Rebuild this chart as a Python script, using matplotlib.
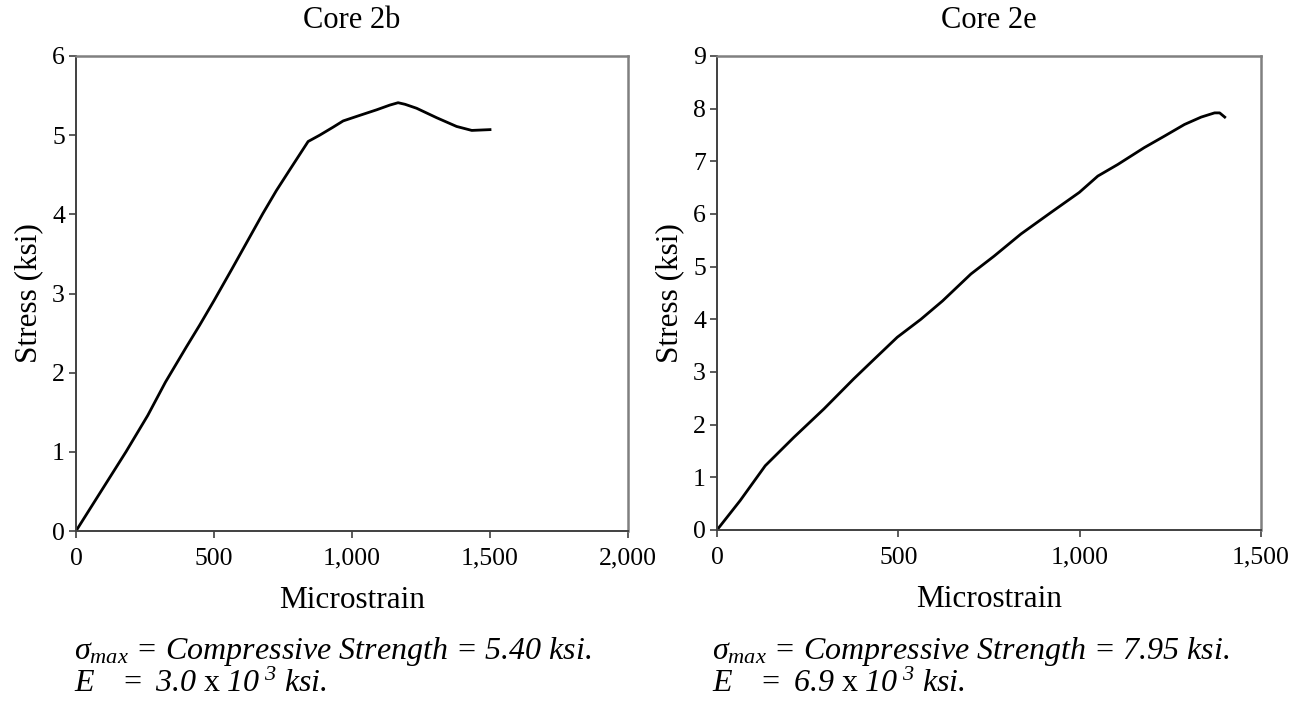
import matplotlib
matplotlib.use("Agg")
import matplotlib.pyplot as plt

# ---- data ----
strain_2b = [0, 85, 181, 260, 324, 399, 448, 500, 565, 629, 677, 726, 774, 841, 883,
             931, 968, 1028, 1089, 1137, 1167, 1192, 1234, 1307, 1379, 1434, 1500]
stress_2b = [0, 0.47, 1.0, 1.46, 1.88, 2.32, 2.6, 2.91, 3.31, 3.71, 4.01, 4.30, 4.56, 4.92, 5.0,
             5.10, 5.18, 5.25, 5.32, 5.38, 5.41, 5.39, 5.34, 5.22, 5.11, 5.06, 5.07]

strain_2e = [0, 64, 133, 212, 295, 377, 433, 497, 562, 622, 700, 764, 838, 921, 999,
             1050, 1105, 1178, 1234, 1289, 1335, 1372, 1386, 1400]
stress_2e = [0, 0.56, 1.22, 1.76, 2.30, 2.87, 3.24, 3.66, 4.0, 4.35, 4.86, 5.20, 5.62, 6.03, 6.41,
             6.72, 6.94, 7.26, 7.48, 7.70, 7.84, 7.92, 7.92, 7.84]

titles = ["Core 2b", "Core 2e"]
xticks_2b = [0, 500, 1000, 1500, 2000]
xticks_2e = [0, 500, 1000, 1500]
yticks_2b = [0, 1, 2, 3, 4, 5, 6]
yticks_2e = list(range(0, 10))
strengths = ["5.40", "7.95"]
moduli = ["3.0", "6.9"]

plt.rcParams['font.family'] = ['Liberation Serif', 'DejaVu Serif']
plt.rcParams['mathtext.fontset'] = 'custom'
plt.rcParams['mathtext.rm'] = 'Liberation Serif:italic'
plt.rcParams['mathtext.it'] = 'Liberation Serif:italic'
plt.rcParams['mathtext.sf'] = 'Liberation Serif'
plt.rcParams['mathtext.bf'] = 'Liberation Serif:bold'

W, H = 1300, 702
fig = plt.figure(figsize=(W / 100, H / 100), dpi=100)

def add_ax(x0, y0, x1, y1):
    return fig.add_axes([x0 / W, 1 - y1 / H, (x1 - x0) / W, (y1 - y0) / H])

axL = add_ax(76, 56, 628, 531)
axR = add_ax(717, 56, 1261, 530)

def style(ax, x, y, xt, yt, xmax, ymax, title):
    ax.plot(x, y, color='black', lw=2.0, solid_joinstyle='round')
    ax.set_xlim(0, xmax)
    ax.set_ylim(0, ymax)
    ax.set_xticks(xt)
    ax.set_xticklabels([f"{v:,}" for v in xt])
    ax.set_yticks(yt)
    for s in ['top', 'right']:
        ax.spines[s].set_color('#808080')
        ax.spines[s].set_linewidth(1.8)
    for s in ['left', 'bottom']:
        ax.spines[s].set_color('#404040')
        ax.spines[s].set_linewidth(1.4)
    ax.tick_params(direction='out', length=5, width=1.2, color='#404040',
                   labelsize=18.5)
    ax.tick_params(axis='x', pad=7)
    ax.tick_params(axis='y', pad=3)
    ax.set_xlabel("Microstrain", fontsize=22.5, labelpad=12)
    ax.set_ylabel("Stress (ksi)", fontsize=22.5, labelpad=6)
    ax.set_title(title, fontsize=22, pad=20)

style(axL, strain_2b, stress_2b, xticks_2b, yticks_2b, 2000, 6, titles[0])
style(axR, strain_2e, stress_2e, xticks_2e, yticks_2e, 1500, 9, titles[1])

fs = 23
def notes(x, strength, E):
    fig.text(x / W, 1 - 651 / H,
             r"$\sigma_{max}$ = Compressive Strength = " + strength + " ksi.",
             fontsize=fs, style='italic', va='center', ha='left')
    fig.text(x / W, 1 - 684 / H,
             r"$E\quad =\ " + E + r"\ \mathsf{x}\ 10^{\ 3}\ ksi.$",
             fontsize=fs, va='center', ha='left')

notes(74, strengths[0], moduli[0])
notes(712, strengths[1], moduli[1])

fig.savefig("out.png", dpi=100)
